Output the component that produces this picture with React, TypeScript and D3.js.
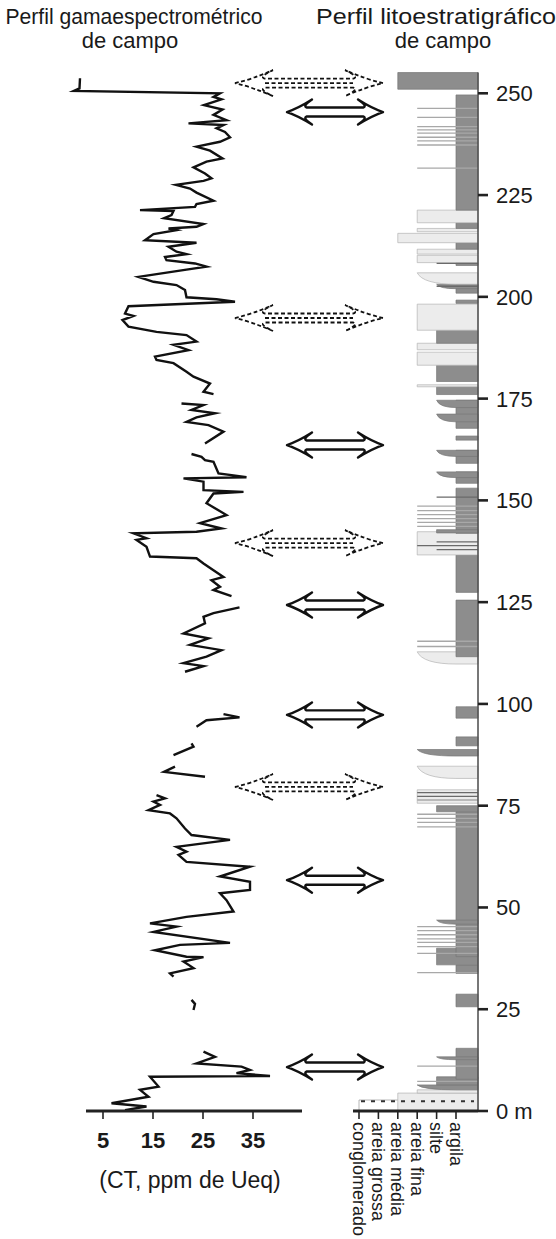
import React from "react";
import * as d3 from "d3";

const W = 556;
const H = 1239;

// ---- axis / category data ----
const depthTicks = [0, 25, 50, 75, 100, 125, 150, 175, 200, 225, 250];
const ctTicks = [5, 15, 25, 35];
const grainClasses = ["argila", "silte", "areia fina", "areia média", "areia grossa", "conglomerado"];

// ---- gamma-ray curve segments: [depth m, CT ppm Ueq] ----
const gammaSegA: [number, number][] = [
  [253.7, 0.4], [251.2, 0.3], [250.6, -0.8], [250.0, 28.4], [249.1, 27.1], [248.5, 28.7], [247.1, 25.2], [246.0, 28.9],
  [244.7, 27.1], [243.4, 29.7], [242.6, 22.1], [242.2, 29.1], [241.4, 27.7], [240.5, 29.4], [239.2, 30.4], [238.1, 28.4],
  [236.9, 23.7], [235.9, 26.4], [234.0, 28.9], [233.2, 25.7], [231.8, 23.1], [230.3, 25.4], [229.1, 26.7], [228.5, 25.1],
  [227.5, 19.6], [226.6, 22.4], [225.6, 23.7], [223.6, 27.1], [222.8, 23.7], [222.1, 23.4], [221.3, 12.4], [221.1, 19.1],
  [220.1, 18.7], [219.3, 17.2], [217.9, 25.1], [217.2, 23.7], [216.8, 18.1], [216.4, 19.7], [215.4, 15.1], [213.9, 13.4],
  [213.3, 23.7], [212.3, 18.1], [211.1, 19.7], [210.5, 21.7], [209.8, 17.4], [209.0, 17.7], [208.2, 23.4], [207.4, 25.7],
  [206.7, 21.7], [204.9, 12.1], [203.7, 15.1], [202.9, 19.7], [201.7, 21.4], [199.9, 21.7], [199.4, 27.7], [198.8, 31.4],
  [197.7, 10.1], [195.9, 9.4], [195.3, 11.1], [194.3, 8.9], [192.7, 10.1], [191.4, 15.7], [190.6, 21.7], [189.0, 23.7],
  [188.2, 19.1], [186.9, 22.1], [185.3, 15.4], [184.5, 15.7], [183.7, 19.1], [181.6, 21.7], [180.4, 23.1], [178.7, 26.4],
  [176.7, 25.1], [176.1, 27.1],
];
const gammaSegB: [number, number][] = [
  [173.8, 20.7], [173.4, 25.1], [172.2, 22.7], [171.4, 27.4], [170.4, 23.7], [169.3, 21.7], [168.5, 26.1], [166.9, 29.1],
  [164.0, 25.4],
];
const gammaSegC: [number, number][] = [
  [161.4, 22.7], [160.7, 24.7], [159.9, 25.4], [159.5, 27.1], [156.6, 28.1], [155.7, 33.7], [155.4, 21.1], [154.6, 25.1],
  [152.5, 25.1], [152.1, 33.1], [151.7, 27.1], [149.3, 25.7], [146.4, 29.7], [144.4, 24.4], [143.1, 28.7], [142.3, 23.7],
  [141.9, 11.1], [140.7, 13.7], [140.3, 11.7], [138.6, 13.7], [136.2, 14.4], [135.8, 23.7], [134.5, 25.1], [131.2, 29.1],
  [130.4, 26.7], [128.8, 28.4], [128.0, 27.1], [126.5, 30.7],
];
const gammaSegD: [number, number][] = [
  [123.7, 32.3], [122.3, 27.1], [121.4, 25.1], [119.8, 25.4], [117.3, 21.1], [116.1, 26.1], [114.5, 22.4], [113.2, 28.7],
  [111.6, 25.7], [110.0, 21.1], [109.3, 25.1], [107.9, 21.4],
];
const gammaSegE: [number, number][] = [[97.5, 29.1], [96.7, 32.3], [96.0, 25.7], [94.4, 23.7]];
const gammaSegF: [number, number][] = [[90.3, 22.7], [89.5, 23.1], [87.4, 19.1]];
const gammaSegG: [number, number][] = [[84.6, 19.4], [83.3, 17.2], [82.1, 25.4]];
const gammaSegH: [number, number][] = [
  [77.6, 15.7], [76.8, 17.4], [76.0, 15.1], [75.2, 16.4], [73.9, 14.1], [73.1, 18.4], [71.9, 19.7], [69.4, 21.4],
  [67.8, 22.7], [66.6, 30.4], [64.9, 19.7], [63.7, 21.7], [62.9, 20.1], [61.2, 21.7], [60.0, 34.4], [57.6, 28.4],
  [56.3, 34.4], [54.3, 34.4], [53.5, 28.4], [51.8, 29.7], [49.0, 31.1], [47.7, 21.7], [46.1, 14.4], [45.3, 19.7],
  [44.0, 15.1], [41.3, 30.4], [40.8, 20.4], [39.5, 15.4], [37.9, 21.7], [37.8, 25.1], [36.7, 21.1], [35.1, 23.1],
  [33.8, 18.4], [33.0, 19.1],
];
const gammaSegI: [number, number][] = [[27.3, 22.7], [26.3, 23.4], [24.8, 23.1]];
const gammaSegJ: [number, number][] = [
  [14.6, 25.1], [13.3, 27.4], [11.7, 23.7], [10.9, 32.7], [10.1, 34.4], [9.3, 31.7], [8.6, 38.4], [8.4, 14.4],
  [6.0, 16.1], [5.2, 12.4], [3.5, 14.1], [1.9, 6.7], [1.1, 13.7], [0.2, 9.4],
];
const gammaSegments = [gammaSegA, gammaSegB, gammaSegC, gammaSegD, gammaSegE, gammaSegF, gammaSegG, gammaSegH, gammaSegI, gammaSegJ];

// ---- lithology beds: [base m, top m, grain class, tone] (d dark, l light, w white; suffix "w" = wedge) ----
const lithoBeds: [number, number, string, string][] = [
  [0, 2.7, "conglomerado", "w"],
  [0, 4.4, "areia média", "l"],
  [4.4, 5.2, "areia fina", "l"],
  [5.2, 6.4, "areia fina", "dw"],
  [6.4, 8.4, "silte", "d"],
  [7.8, 15.4, "argila", "d"],
  [12.6, 13.3, "silte", "dw"],
  [25.6, 28.7, "argila", "d"],
  [33.8, 35.9, "argila", "d"],
  [35.9, 40.0, "silte", "d"],
  [37.9, 73.5, "argila", "d"],
  [45.9, 46.9, "silte", "dw"],
  [73.5, 75.0, "silte", "d"],
  [75.6, 78.9, "areia fina", "l"],
  [81.7, 84.7, "areia fina", "lw"],
  [87.2, 88.8, "areia fina", "dw"],
  [89.7, 91.9, "argila", "d"],
  [96.5, 99.3, "argila", "d"],
  [109.8, 112.8, "areia fina", "lw"],
  [111.6, 125.5, "argila", "d"],
  [127.4, 136.6, "argila", "d"],
  [136.6, 142.3, "areia fina", "l"],
  [141.9, 153.0, "argila", "d"],
  [142.0, 142.8, "silte", "d"],
  [154.2, 157.0, "argila", "d"],
  [155.6, 157.0, "silte", "dw"],
  [159.1, 162.3, "argila", "d"],
  [160.8, 162.3, "silte", "dw"],
  [164.8, 165.8, "argila", "d"],
  [167.7, 174.6, "argila", "d"],
  [169.3, 171.2, "silte", "dw"],
  [172.8, 174.6, "silte", "dw"],
  [176.0, 177.9, "silte", "d"],
  [177.9, 178.4, "areia fina", "l"],
  [179.2, 183.2, "silte", "d"],
  [183.2, 186.4, "areia fina", "l"],
  [187.0, 188.6, "areia fina", "l"],
  [188.6, 191.8, "silte", "d"],
  [191.8, 198.2, "areia fina", "l"],
  [198.4, 199.2, "argila", "d"],
  [200.9, 203.1, "argila", "d"],
  [202.0, 203.1, "silte", "dw"],
  [203.1, 205.9, "areia fina", "lw"],
  [207.7, 208.4, "argila", "d"],
  [208.4, 210.2, "areia fina", "l"],
  [210.5, 211.7, "areia fina", "l"],
  [211.7, 213.3, "argila", "d"],
  [213.3, 215.6, "areia média", "l"],
  [216.0, 216.8, "areia fina", "l"],
  [216.8, 218.2, "argila", "d"],
  [218.2, 221.3, "areia fina", "l"],
  [221.3, 249.6, "argila", "d"],
  [251.0, 255.1, "areia média", "d"],
];

// thin stringers: [depth m, grain class, tone]
const lithoStringers: [number, string, string][] = [
  [246.3, "areia fina", "l"], [244.1, "areia fina", "l"], [241.8, "areia fina", "l"], [241.0, "areia fina", "l"],
  [240.2, "areia fina", "l"], [239.2, "areia fina", "l"], [238.3, "areia fina", "l"], [237.3, "areia fina", "l"],
  [231.6, "areia fina", "l"], [208.2, "silte", "d"], [202.6, "silte", "d"], [150.8, "silte", "d"],
  [148.6, "areia fina", "l"], [147.5, "areia fina", "l"], [146.5, "areia fina", "l"], [145.5, "areia fina", "l"],
  [144.6, "areia fina", "l"], [143.6, "areia fina", "l"], [139.8, "silte", "d"], [138.9, "areia fina", "d"],
  [137.9, "silte", "d"], [115.4, "areia fina", "l"], [114.1, "areia fina", "l"],
  [78.2, "areia fina", "d"], [77.3, "areia fina", "d"], [76.4, "areia fina", "l"],
  [72.9, "areia fina", "l"], [71.9, "areia fina", "l"], [70.9, "areia fina", "l"], [69.8, "areia fina", "l"],
  [45.3, "areia fina", "l"], [44.3, "areia fina", "l"], [43.3, "areia fina", "l"], [42.3, "areia fina", "l"],
  [41.4, "areia fina", "l"], [40.4, "areia fina", "l"], [38.7, "areia fina", "l"], [34.0, "areia fina", "l"],
  [11.0, "areia fina", "l"], [7.3, "areia fina", "l"],
];

// correlation arrows (depth m)
const solidArrowDepths = [245.4, 163.6, 124.3, 97.3, 56.7, 10.8];
const dashedArrowDepths = [252.5, 194.8, 139.5, 79.6];

const FONT = "'Liberation Sans', Arial, Helvetica, sans-serif";

function arrowPath(x0: number, x1: number, cy: number, hl: number, hh: number, sh: number) {
  const p = d3.path();
  p.moveTo(x0, cy);
  p.quadraticCurveTo(x0 + hl * 0.45, cy - hh * 0.3, x0 + hl, cy - hh);
  p.quadraticCurveTo(x0 + hl * 0.62, cy - sh * 1.4, x0 + hl * 0.78, cy - sh);
  p.lineTo(x1 - hl * 0.78, cy - sh);
  p.quadraticCurveTo(x1 - hl * 0.62, cy - sh * 1.4, x1 - hl, cy - hh);
  p.quadraticCurveTo(x1 - hl * 0.45, cy - hh * 0.3, x1, cy);
  p.quadraticCurveTo(x1 - hl * 0.45, cy + hh * 0.3, x1 - hl, cy + hh);
  p.quadraticCurveTo(x1 - hl * 0.62, cy + sh * 1.4, x1 - hl * 0.78, cy + sh);
  p.lineTo(x0 + hl * 0.78, cy + sh);
  p.quadraticCurveTo(x0 + hl * 0.62, cy + sh * 1.4, x0 + hl, cy + hh);
  p.quadraticCurveTo(x0 + hl * 0.45, cy + hh * 0.3, x0, cy);
  p.closePath();
  return p.toString();
}

export default function App() {
  const yD = d3.scaleLinear().domain([0, 250]).range([1111, 93.3]);
  const xCT = d3.scaleLinear().domain([5, 35]).range([103, 253]);
  const axisX = 478;
  const xG = d3.scalePoint<string>().domain(grainClasses).range([456, 359]);

  const line = d3
    .line<[number, number]>()
    .x((p) => xCT(p[1]))
    .y((p) => yD(p[0]));

  const tone = (t: string) =>
    t[0] === "d"
      ? { fill: "#8d8d8d", stroke: "#777" }
      : t[0] === "l"
      ? { fill: "#ececec", stroke: "#b3b3b3" }
      : { fill: "#ffffff", stroke: "#9a9a9a" };

  const bedShape = (b: [number, number, string, string]) => {
    const x = xG(b[2]) as number;
    const yT = yD(b[1]);
    const yB = yD(b[0]);
    const p = d3.path();
    if (b[3].length > 1 && b[3][1] === "w") {
      const xa = xG("argila") as number;
      p.moveTo(axisX, yT);
      p.lineTo(x, yT);
      p.quadraticCurveTo(x + (xa - x) * 0.15, yB, xa, yB);
      p.lineTo(axisX, yB);
      p.closePath();
    } else {
      p.rect(x, yT, axisX - x, Math.max(0.8, yB - yT));
    }
    return p.toString();
  };

  return (
    <svg
      width={W}
      height={H}
      style={{ position: "absolute", left: 0, top: 0, background: "#fff" }}
      fontFamily={FONT}
    >
      <rect x={0} y={0} width={W} height={H} fill="#fff" />
      {/* titles */}
      <g fill="#1a1a1a" fontSize={22}>
        <text x={134} y={24} textAnchor="middle" textLength={257} lengthAdjust="spacingAndGlyphs">
          Perfil gamaespectrométrico
        </text>
        <text x={130} y={48} textAnchor="middle">
          de campo
        </text>
        <text x={316} y={24} textLength={240} lengthAdjust="spacingAndGlyphs">
          Perfil litoestratigráfico
        </text>
        <text x={443} y={48} textAnchor="middle">
          de campo
        </text>
      </g>

      {/* lithology beds */}
      <g>
        {lithoBeds.map((b, i) => {
          const c = tone(b[3]);
          return <path key={i} d={bedShape(b)} fill={c.fill} stroke={c.stroke} strokeWidth={0.7} />;
        })}
        {lithoStringers.map((s, i) => (
          <line
            key={i}
            x1={xG(s[1]) as number}
            x2={axisX}
            y1={yD(s[0])}
            y2={yD(s[0])}
            stroke={s[2] === "d" ? "#6a6a6a" : "#a8a8a8"}
            strokeWidth={1.3}
          />
        ))}
        <line
          x1={(xG("conglomerado") as number) + 2}
          x2={axisX - 4}
          y1={yD(2.4)}
          y2={yD(2.4)}
          stroke="#333"
          strokeWidth={2}
          strokeDasharray="4 6"
        />
      </g>

      {/* depth axis */}
      <line x1={axisX} x2={axisX} y1={yD(0)} y2={yD(255.1)} stroke="#555" strokeWidth={1.6} />
      {depthTicks.map((t) => (
        <g key={t}>
          <line x1={axisX} x2={axisX + 10} y1={yD(t)} y2={yD(t)} stroke="#222" strokeWidth={2.6} />
          <text x={496} y={yD(t)} dy="0.36em" fontSize={22} fill="#1a1a1a">
            {t === 0 ? "0 m" : t}
          </text>
        </g>
      ))}

      {/* lithology grain axis */}
      <line x1={353} x2={axisX} y1={yD(0)} y2={yD(0)} stroke="#222" strokeWidth={3} />
      {grainClasses.map((g) => {
        const x = xG(g) as number;
        return (
          <g key={g}>
            <line x1={x} x2={x} y1={yD(0)} y2={yD(0) + 8} stroke="#222" strokeWidth={1.6} />
            <text
              transform={`translate(${x},1122) rotate(90)`}
              dy="0.36em"
              fontSize={18}
              fill="#1a1a1a"
            >
              {g}
            </text>
          </g>
        );
      })}

      {/* gamma curve */}
      <g fill="none" stroke="#111" strokeWidth={2.4} strokeLinejoin="miter" strokeMiterlimit={6}>
        {gammaSegments.map((s, i) => (
          <path key={i} d={line(s) || ""} />
        ))}
      </g>

      {/* CT axis */}
      <line x1={xCT(1.6)} x2={xCT(44.8)} y1={yD(0)} y2={yD(0)} stroke="#222" strokeWidth={3} />
      {ctTicks.map((t) => (
        <g key={t}>
          <line x1={xCT(t)} x2={xCT(t)} y1={yD(0)} y2={yD(0) + 8} stroke="#222" strokeWidth={1.6} />
          <text x={xCT(t)} y={1148} textAnchor="middle" fontSize={22} fontWeight="bold" fill="#1a1a1a">
            {t}
          </text>
        </g>
      ))}
      <text x={190} y={1188} textAnchor="middle" fontSize={23} fill="#1a1a1a">
        (CT, ppm de Ueq)
      </text>

      {/* correlation arrows */}
      {solidArrowDepths.map((d, i) => (
        <path
          key={"s" + i}
          d={arrowPath(287, 383, yD(d), 25, 12.5, 4.5)}
          fill="#fff"
          stroke="#111"
          strokeWidth={2.4}
          strokeLinejoin="round"
        />
      ))}
      {dashedArrowDepths.map((d, i) => {
        const cy = yD(d);
        return (
          <g key={"d" + i} fill="none" stroke="#111" strokeWidth={1.8} strokeDasharray="4 2.5">
            <path d={arrowPath(235, 383, cy, 38, 13, 4.5)} fill="#fff" />
            <line x1={235 + 30} x2={383 - 30} y1={cy} y2={cy} />
          </g>
        );
      })}
    </svg>
  );
}
